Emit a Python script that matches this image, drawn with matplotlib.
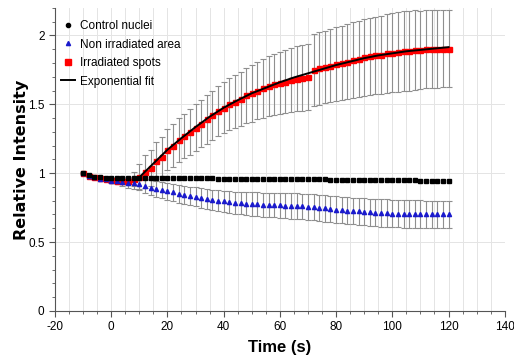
import numpy as np
import matplotlib
matplotlib.use("Agg")
import matplotlib.pyplot as plt
from matplotlib.ticker import MultipleLocator, FormatStrFormatter

# time points (s)
time = list(range(-10, 121, 2))

control = [1.00, 0.985, 0.975, 0.97, 0.965, 0.965, 0.965, 0.965, 0.965, 0.965,
           0.965, 0.965, 0.964, 0.964, 0.964, 0.964, 0.963, 0.963, 0.963, 0.963,
           0.962, 0.962, 0.962, 0.962, 0.961, 0.961, 0.961, 0.960, 0.960, 0.960,
           0.959, 0.959, 0.959, 0.958, 0.958, 0.958, 0.957, 0.957, 0.957, 0.956,
           0.956, 0.955, 0.955, 0.955, 0.954, 0.954, 0.953, 0.953, 0.952, 0.952,
           0.951, 0.951, 0.950, 0.950, 0.949, 0.949, 0.948, 0.948, 0.947, 0.947,
           0.946, 0.946, 0.945, 0.945, 0.944, 0.944]

non_irr = [1.00, 0.98, 0.97, 0.96, 0.955, 0.945, 0.94, 0.935, 0.93, 0.925,
           0.92, 0.905, 0.895, 0.885, 0.875, 0.867, 0.86, 0.85, 0.842, 0.835,
           0.83, 0.82, 0.812, 0.805, 0.80, 0.795, 0.79, 0.786, 0.782, 0.779,
           0.776, 0.774, 0.772, 0.77, 0.768, 0.766, 0.764, 0.762, 0.76, 0.758,
           0.756, 0.752, 0.748, 0.744, 0.74, 0.736, 0.732, 0.728, 0.725, 0.722,
           0.719, 0.716, 0.713, 0.711, 0.709, 0.707, 0.706, 0.705, 0.704, 0.703,
           0.702, 0.701, 0.70, 0.70, 0.70, 0.70]
non_irr_err = [0.005, 0.005, 0.005, 0.005, 0.005, 0.01, 0.02, 0.03, 0.035, 0.04,
               0.045, 0.05, 0.052, 0.055, 0.058, 0.06, 0.062, 0.064, 0.066, 0.068,
               0.07, 0.071, 0.073, 0.075, 0.077, 0.078, 0.079, 0.08, 0.082, 0.083,
               0.085, 0.086, 0.087, 0.088, 0.089, 0.09, 0.091, 0.092, 0.093, 0.094,
               0.095, 0.095, 0.095, 0.095, 0.095, 0.095, 0.096, 0.096, 0.097, 0.097,
               0.098, 0.098, 0.099, 0.099, 0.10, 0.10, 0.10, 0.10, 0.10, 0.10,
               0.10, 0.10, 0.10, 0.10, 0.10, 0.10]

irr = [1.00, 0.98, 0.97, 0.965, 0.955, 0.95, 0.945, 0.945, 0.945, 0.955,
       0.975, 1.01, 1.04, 1.085, 1.12, 1.17, 1.20, 1.24, 1.27, 1.30,
       1.33, 1.36, 1.39, 1.42, 1.45, 1.475, 1.50, 1.52, 1.54, 1.565,
       1.58, 1.60, 1.615, 1.63, 1.645, 1.655, 1.665, 1.675, 1.685, 1.69,
       1.70, 1.75, 1.76, 1.77, 1.78, 1.79, 1.80, 1.81, 1.82, 1.83,
       1.84, 1.85, 1.855, 1.86, 1.87, 1.875, 1.88, 1.885, 1.89, 1.895,
       1.895, 1.90, 1.90, 1.905, 1.905, 1.905]
irr_err = [0.0, 0.01, 0.01, 0.015, 0.015, 0.02, 0.02, 0.02, 0.03, 0.05,
           0.09, 0.12, 0.13, 0.14, 0.14, 0.15, 0.155, 0.16, 0.163, 0.166,
           0.17, 0.172, 0.175, 0.178, 0.182, 0.186, 0.19, 0.194, 0.198, 0.202,
           0.206, 0.21, 0.214, 0.218, 0.222, 0.226, 0.23, 0.232, 0.235, 0.238,
           0.24, 0.26, 0.262, 0.264, 0.266, 0.268, 0.27, 0.272, 0.274, 0.276,
           0.278, 0.28, 0.282, 0.284, 0.286, 0.288, 0.29, 0.29, 0.29, 0.288,
           0.286, 0.285, 0.284, 0.283, 0.282, 0.28]

fit_t = [10, 15, 20, 25, 30, 35, 40, 45, 50, 55, 60, 65, 70, 75, 80, 85,
         90, 95, 100, 105, 110, 115, 120]
fit_y = [0.97, 1.07, 1.17, 1.255, 1.335, 1.41, 1.475, 1.53, 1.58, 1.62,
         1.66, 1.695, 1.725, 1.755, 1.785, 1.81, 1.835, 1.855, 1.87, 1.885,
         1.895, 1.905, 1.915]

plt.rcParams['font.family'] = ['Liberation Sans', 'DejaVu Sans']
plt.rcParams['axes.unicode_minus'] = False

fig = plt.figure(figsize=(5.14, 3.59), dpi=100)
ax = fig.add_axes([0.107, 0.134, 0.875, 0.844])

ebar = dict(ecolor='#8f8f8f', elinewidth=0.8, capsize=2, capthick=0.8,
            linestyle='none')

ax.errorbar(time, irr, yerr=irr_err, fmt='s', color='red', ms=3.6,
            zorder=3, **ebar)
ax.errorbar(time, non_irr, yerr=non_irr_err, fmt='^', color='#1a1acc',
            ms=3, zorder=3, **ebar)
ax.plot(time, control, 's', color='black', ms=2.8, linestyle='none', zorder=4)
ax.plot(fit_t, fit_y, '-', color='black', lw=1.4, zorder=5)

ax.set_xlim(-20, 140)
ax.set_ylim(0, 2.2)
ax.xaxis.set_major_locator(MultipleLocator(20))
ax.xaxis.set_minor_locator(MultipleLocator(5))
ax.yaxis.set_major_locator(MultipleLocator(0.5))
ax.yaxis.set_minor_locator(MultipleLocator(0.1))
ax.yaxis.set_major_formatter(FormatStrFormatter('%g'))

ax.grid(axis='x', which='both', color='#e4e4e4', lw=0.7)
ax.grid(axis='y', which='major', color='#e4e4e4', lw=0.7)
ax.set_axisbelow(True)

for s in ['top', 'right']:
    ax.spines[s].set_visible(False)
ax.spines['left'].set_color('#555555')
ax.spines['bottom'].set_color('#555555')
ax.tick_params(which='major', length=4, color='#555555', labelsize=8.5)
ax.tick_params(which='minor', length=2.5, color='#555555')

ax.set_xlabel('Time (s)', fontsize=12, fontweight='bold', labelpad=5)
ax.set_ylabel('Relative Intensity', fontsize=11.5, fontweight='bold',
              family=['DejaVu Sans'])
ax.yaxis.set_label_coords(-0.058, 0.5)

# legend handles
h1, = ax.plot([], [], 'o', color='black', ms=3)
h2, = ax.plot([], [], '^', color='#1a1acc', ms=3)
h3, = ax.plot([], [], 's', color='red', ms=4)
h4, = ax.plot([], [], '-', color='black', lw=1.4)
ax.legend([h1, h2, h3, h4],
          ['Control nuclei', 'Non irradiated area', 'Irradiated spots',
           'Exponential fit'],
          loc='upper left', bbox_to_anchor=(-0.01, 0.995), frameon=False,
          fontsize=8.5, handlelength=1.2, handletextpad=0.4, labelspacing=0.55)

fig.savefig('out.png', dpi=100)
